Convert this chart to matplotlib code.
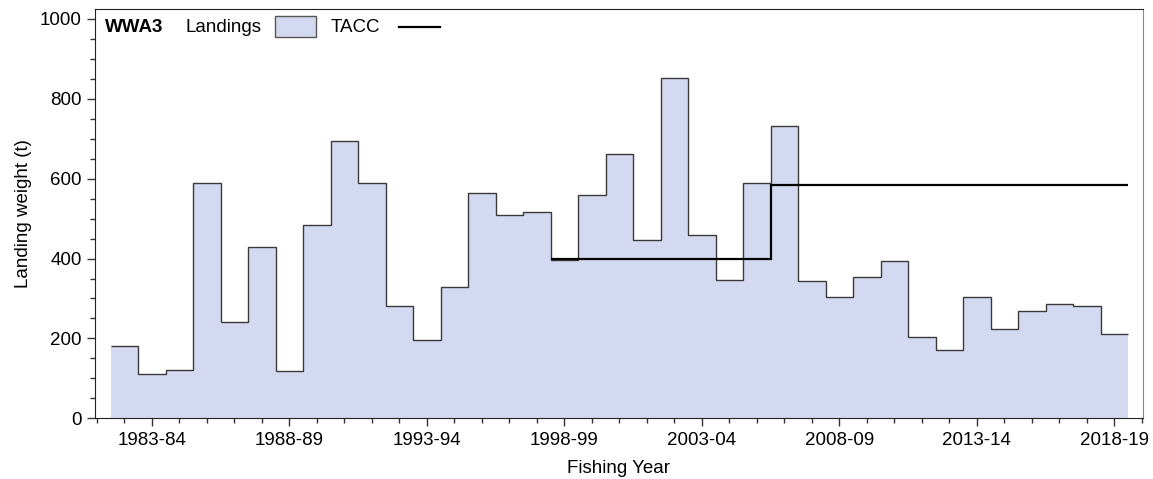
import matplotlib
matplotlib.use("Agg")
import matplotlib.pyplot as plt
from matplotlib.patches import Rectangle
from matplotlib.lines import Line2D
from matplotlib.ticker import MultipleLocator
import numpy as np

plt.rcParams['font.family'] = ['Liberation Sans', 'DejaVu Sans']

# Fishing years 1982-83 .. 2018-19
years = ["1982-83", "1983-84", "1984-85", "1985-86", "1986-87", "1987-88", "1988-89",
         "1989-90", "1990-91", "1991-92", "1992-93", "1993-94", "1994-95", "1995-96",
         "1996-97", "1997-98", "1998-99", "1999-00", "2000-01", "2001-02", "2002-03",
         "2003-04", "2004-05", "2005-06", "2006-07", "2007-08", "2008-09", "2009-10",
         "2010-11", "2011-12", "2012-13", "2013-14", "2014-15", "2015-16", "2016-17",
         "2017-18", "2018-19"]
landings = [180, 110, 122, 590, 240, 430, 118, 485, 695, 590, 280, 197, 328, 565,
            509, 516, 397, 559, 662, 446, 853, 458, 347, 590, 733, 345, 303, 354,
            393, 203, 172, 303, 224, 269, 286, 282, 212]
# TACC from 1998-99 onwards
tacc_start = "1998-99"
tacc = [400, 400, 400, 400, 400, 400, 400, 400,
        585, 585, 585, 585, 585, 585, 585, 585, 585, 585, 585, 585, 585]
tick_labels = ["1983-84", "1988-89", "1993-94", "1998-99", "2003-04", "2008-09",
               "2013-14", "2018-19"]

n = len(years)
edges = np.arange(n + 1) - 0.5
i0 = years.index(tacc_start)
tacc_edges = np.arange(i0, i0 + len(tacc) + 1) - 0.5

fig = plt.figure(figsize=(11.53, 4.79), dpi=100)
ax = fig.add_axes([0.0824, 0.1267, 0.9089, 0.8539])

ax.stairs(landings, edges, fill=True, color="#d3d9f1", linewidth=0)
ax.stairs(landings, edges, baseline=None, color="#3a3a3a", linewidth=1.0)
ax.stairs(tacc, tacc_edges, baseline=None, color="black", linewidth=1.6)

ax.set_xlim(-1.07, 37.04)
ax.set_ylim(0, 1024)

ax.set_xticks([years.index(t) for t in tick_labels])
ax.set_xticklabels(tick_labels)
ax.xaxis.set_minor_locator(MultipleLocator(1))
ax.yaxis.set_major_locator(MultipleLocator(200))
ax.yaxis.set_minor_locator(MultipleLocator(50))
ax.tick_params(axis="both", which="major", direction="out", length=6, width=1,
               labelsize=13.5, color="#333333")
ax.tick_params(axis="x", which="major", pad=4)
ax.tick_params(axis="both", which="minor", direction="out", length=3.5, width=1,
               color="#333333")
ax.tick_params(axis="x", which="both", top=False)
ax.tick_params(axis="y", which="both", right=False)

for s in ["left", "bottom", "top"]:
    ax.spines[s].set_color("#222222")
ax.spines["right"].set_color("#888888")

ax.set_xlabel("Fishing Year", fontsize=13.5, labelpad=8)
ax.set_ylabel("Landing weight (t)", fontsize=13.5, labelpad=6)

# legend row drawn by hand
ax.text(0.0095, 0.955, "WWA3", transform=ax.transAxes, fontsize=13.5,
        fontweight="bold", va="center", ha="left")
ax.text(0.0859, 0.955, "Landings", transform=ax.transAxes, fontsize=13.5,
        va="center", ha="left")
ax.add_patch(Rectangle((0.1718, 0.932), 0.039, 0.052, transform=ax.transAxes,
                       facecolor="#d3d9f1", edgecolor="#555555", linewidth=1))
ax.text(0.225, 0.955, "TACC", transform=ax.transAxes, fontsize=13.5,
        va="center", ha="left")
ax.add_line(Line2D([0.290, 0.329], [0.957, 0.957], transform=ax.transAxes,
                   color="black", linewidth=1.6))

fig.savefig("out.png", dpi=100)
